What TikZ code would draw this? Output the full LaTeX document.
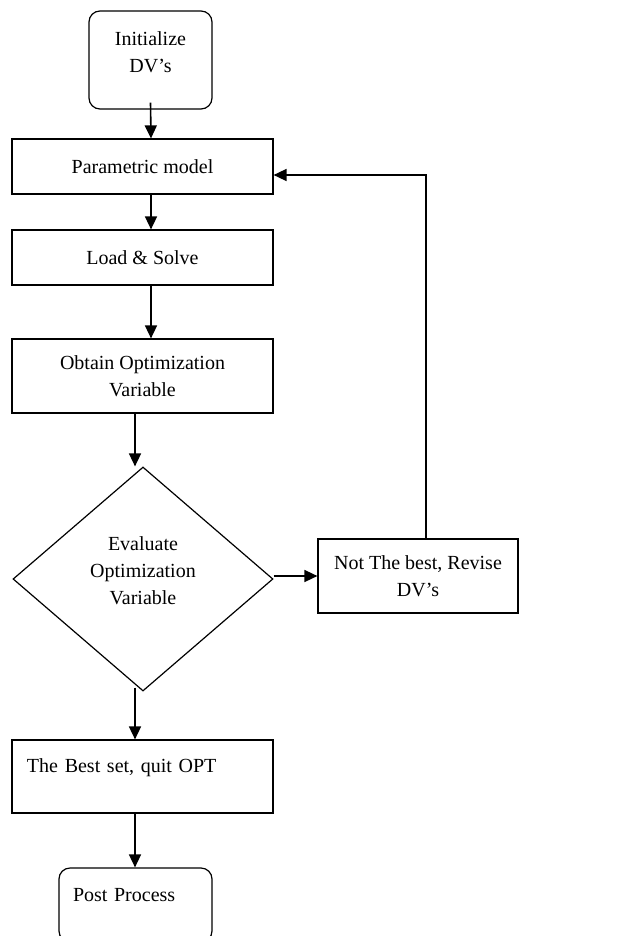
\documentclass[tikz,border=0pt]{standalone}
\usepackage{fontspec}
\setmainfont{Liberation Serif}
\usetikzlibrary{shapes.geometric,arrows.meta}
\begin{document}
\begin{tikzpicture}[x=1pt,y=-1pt,
  box/.style={draw,line width=1.2pt,rectangle,inner sep=0pt,align=center,
    font=\fontsize{20}{27}\selectfont},
  decide/.style={draw,line width=1.2pt,diamond,inner sep=0pt,align=center,
    font=\fontsize{20}{27}\selectfont},
  flow/.style={line width=1.6pt,-{Triangle[length=13pt,width=12pt]}}]
\useasboundingbox (0,0) rectangle (622,936);
\clip (0,0) rectangle (622,936);

\node[box,rounded corners=11pt,minimum width=123pt,minimum height=98pt,
  text height=41pt,text depth=15.6pt] (init) at (150.5,60) {Initialize\\DV’s};
\node[box,minimum width=261pt,minimum height=55pt] (param) at (142.5,166.5) {Parametric model};
\node[box,minimum width=261pt,minimum height=55pt] (load) at (142.5,257.5) {Load \& Solve};
\node[box,minimum width=261pt,minimum height=74pt,
  text height=41pt,text depth=0pt] (obtain) at (142.5,376) {Obtain Optimization\\Variable};
\node[decide,minimum width=260pt,minimum height=224pt,
  text height=68pt,text depth=17.4pt] (eval) at (143,579) {Evaluate\\Optimization\\Variable};
\node[box,minimum width=200pt,minimum height=74pt,
  text height=41pt,text depth=0pt] (not) at (418,576) {Not The best, Revise\\DV’s};
\node[box,align=left,minimum width=261pt,minimum height=73pt,inner xsep=15pt,
  text width=231pt,text height=14pt,text depth=21.6pt] (best) at (142.5,776.5) {The Best set, quit OPT};
\node[box,align=left,rounded corners=11pt,minimum width=153pt,minimum height=74pt,
  inner xsep=14pt,text width=125pt,text height=14pt,text depth=22pt] (post) at (135.5,905) {Post Process};

\draw[flow] ([yshift=7pt]init.south) -- ([xshift=8.5pt]param.north);
\draw[flow] ([xshift=8.5pt]param.south) -- ([xshift=8.5pt]load.north);
\draw[flow] ([xshift=8.5pt]load.south) -- ([xshift=8.5pt]obtain.north);
\draw[flow] ([xshift=-7.5pt]obtain.south) -- ([xshift=-7.5pt]obtain.south |- eval.north);
\draw[flow] (eval.east |- not.west) -- (not.west);
\draw[flow] ([xshift=8pt]not.north) |- ([yshift=-8.5pt]param.east);
\draw[flow] ([xshift=-8pt,yshift=4pt]eval.south) -- ([xshift=-7.5pt]best.north);
\draw[flow] ([xshift=-7.5pt]best.south) -- ([xshift=-7.5pt]best.south |- post.north);
\end{tikzpicture}
\end{document}
